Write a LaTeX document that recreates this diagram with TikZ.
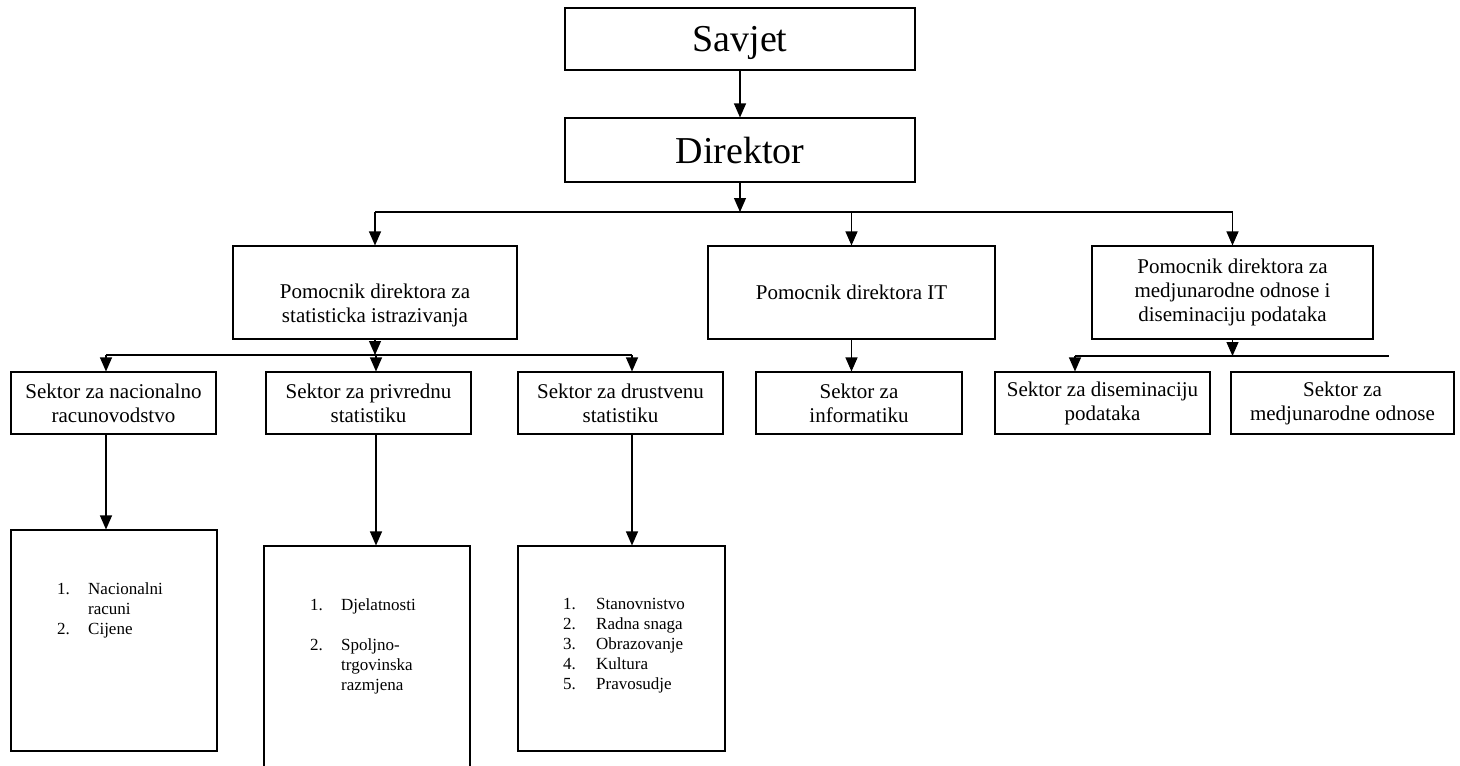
\documentclass[tikz,border=0pt]{standalone}
\usepackage{fontspec}
\setmainfont{Liberation Serif}
\usetikzlibrary{arrows.meta}
\begin{document}
\begin{tikzpicture}[x=1pt,y=-1pt,
  box/.style={draw,line width=1.1pt,inner sep=0pt,align=center,font=\fontsize{21}{24}\selectfont},
  big/.style={box,text depth=0pt,font=\fontsize{38}{44}\selectfont},
  conn/.style={line width=1.1pt},
  arr/.style={conn,-{Triangle[length=14pt,width=12pt]}},
  list/.style={anchor=base west,inner sep=0pt,font=\fontsize{17}{20}\selectfont}]
\useasboundingbox (0,0) rectangle (1460,766);
\clip (0,0) rectangle (1460,766);
\fill[white] (0,0) rectangle (1460,766);

% top level
\node[big,minimum width=350pt,minimum height=62pt] (savjet) at (740,39) {Savjet};
\node[big,minimum width=350pt,minimum height=64pt] (direktor) at (740,150) {Direktor};

% assistants
\node[box,minimum width=284pt,minimum height=93pt] (ps) at (375,292.5) {\strut\\Pomocnik direktora za\\statisticka istrazivanja};
\node[box,minimum width=287pt,minimum height=93pt] (pit) at (851.5,292.5) {Pomocnik direktora IT};
\node[box,minimum width=281pt,minimum height=93pt] (pmd) at (1232.5,292.5) {Pomocnik direktora za\\medjunarodne odnose i\\diseminaciju podataka};

% sectors
\node[box,minimum width=205pt,minimum height=62pt] (s1) at (113.5,403) {Sektor za nacionalno\\racunovodstvo};
\node[box,minimum width=205pt,minimum height=62pt] (s2) at (368.5,403) {Sektor za privrednu\\statistiku};
\node[box,minimum width=205pt,minimum height=62pt] (s3) at (620.5,403) {Sektor za drustvenu\\statistiku};
\node[box,minimum width=206pt,minimum height=62pt] (si) at (859,403) {Sektor za\\informatiku};
\node[box,minimum width=215pt,minimum height=62pt] (sd) at (1102.5,403) {Sektor za diseminaciju\\podataka};
\node[box,minimum width=223pt,minimum height=62pt] (sm) at (1342.5,403) {Sektor za\\medjunarodne odnose};

% list boxes
\node[box,minimum width=206pt,minimum height=221pt] (la) at (114,640.5) {};
\node[box,minimum width=206pt,minimum height=254pt] (lb) at (367,673) {};
\node[box,minimum width=207pt,minimum height=205pt] (lc) at (621.5,648.5) {};

\node[list] (ta) at (57,594) {\begin{tabular}[t]{@{}p{31pt}@{}l@{}}1.&Nacionalni\\&racuni\\2.&Cijene\end{tabular}};
\node[list] (tb) at (310,610) {\begin{tabular}[t]{@{}p{31pt}@{}l@{}}1.&Djelatnosti\\&\\2.&Spoljno-\\&trgovinska\\&razmjena\end{tabular}};
\node[list] (tc) at (563,609) {\begin{tabular}[t]{@{}p{33pt}@{}l@{}}1.&Stanovnistvo\\2.&Radna snaga\\3.&Obrazovanje\\4.&Kultura\\5.&Pravosudje\end{tabular}};

% connectors level 1
\coordinate (j1) at (740,212);
\coordinate (l1) at (375,212);
\coordinate (r1) at (1232.5,212);
\draw[arr] (savjet) -- (direktor);
\draw[arr] (direktor.south) -- (j1);
\draw[conn] (l1) -- (r1);
\draw[arr] (l1) -- (ps.north);
\draw[arr] (pit.north |- j1) -- (pit.north);
\draw[arr] (r1) -- (pmd.north);

% connectors under statistics assistant
\coordinate (j2) at (375,355);
\coordinate (a1) at (106,355);
\coordinate (a2) at (376,355);
\coordinate (a3) at (632,355);
\draw[arr] (ps.south) -- (j2);
\draw[conn] (a1) -- (a3);
\draw[arr] (a1) -- (a1 |- s1.north);
\draw[arr] (a2) -- (a2 |- s2.north);
\draw[arr] (a3) -- (a3 |- s3.north);

% IT
\draw[arr] (pit.south) -- (pit.south |- si.north);

% international relations
\coordinate (j3) at (1232.5,356);
\coordinate (d1) at (1075,356);
\coordinate (d2) at (1389,356);
\draw[arr] (pmd.south) -- (j3);
\draw[conn] (d1) -- (d2);
\draw[arr] (d1) -- (d1 |- sd.north);

% sectors to lists
\draw[arr] (a1 |- s1.south) -- (a1 |- la.north);
\draw[arr] (a2 |- s2.south) -- (a2 |- lb.north);
\draw[arr] (a3 |- s3.south) -- (a3 |- lc.north);
\end{tikzpicture}
\end{document}
